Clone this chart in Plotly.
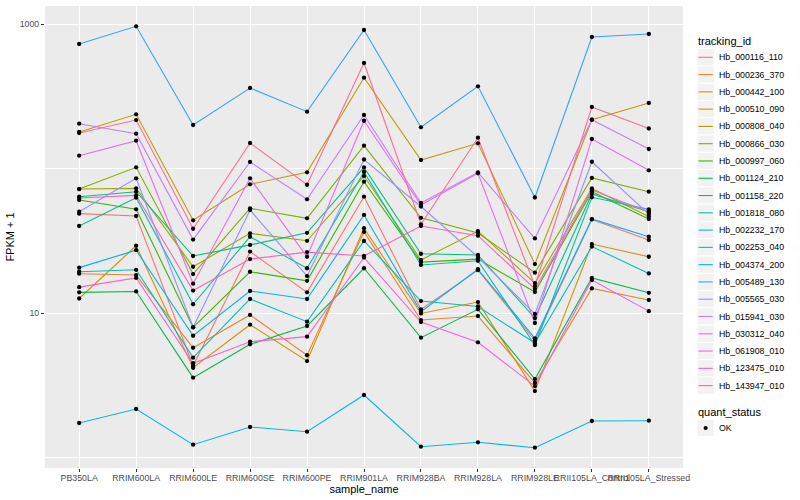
import plotly.graph_objects as go

# ---------------- data ----------------
samples = ["PB350LA", "RRIM600LA", "RRIM600LE", "RRIM600SE", "RRIM600PE", "RRIM901LA",
           "RRIM928BA", "RRIM928LA", "RRIM928LE", "RRII105LA_Control", "RRII105LA_Stressed"]

tracking_ids = ["Hb_000116_110", "Hb_000236_370", "Hb_000442_100", "Hb_000510_090",
                "Hb_000808_040", "Hb_000866_030", "Hb_000997_060", "Hb_001124_210",
                "Hb_001158_220", "Hb_001818_080", "Hb_002232_170", "Hb_002253_040",
                "Hb_004374_200", "Hb_005489_130", "Hb_005565_030", "Hb_015941_030",
                "Hb_030312_040", "Hb_061908_010", "Hb_123475_010", "Hb_143947_010"]

# FPKM + 1 per sample
Hb_000116_110 = [48.7, 46.9, 4.32, 26.6, 13.9, 63.8, 10.6, 19.8, 6.45, 44.4, 32.0]
Hb_000236_370 = [18.7, 18.3, 5.75, 9.69, 5.10, 36.4, 8.94, 9.53, 3.28, 14.8, 12.3]
Hb_000442_100 = [12.6, 29.2, 4.18, 8.30, 4.65, 38.6, 9.92, 11.9, 2.88, 30.0, 24.5]
Hb_000510_090 = [178.9, 237.2, 43.8, 77.7, 94.1, 425.0, 114.5, 149.4, 21.8, 217.6, 284.0]
Hb_000808_040 = [72.1, 72.9, 20.9, 35.6, 31.6, 88.7, 23.3, 36.9, 16.1, 72.7, 46.5]
Hb_000866_030 = [72.1, 101.9, 18.6, 53.0, 45.2, 143.8, 45.6, 35.8, 19.0, 86.0, 69.1]
Hb_000997_060 = [60.5, 52.2, 7.96, 19.3, 16.7, 81.0, 22.5, 23.6, 14.0, 69.1, 44.7]
Hb_001124_210 = [13.9, 14.1, 3.57, 6.07, 8.13, 20.4, 6.75, 10.6, 3.49, 17.5, 13.8]
Hb_001158_220 = [63.8, 69.1, 24.8, 29.6, 35.9, 101.6, 25.7, 25.2, 9.23, 66.6, 50.2]
Hb_001818_080 = [40.0, 62.8, 11.5, 33.7, 20.4, 94.6, 21.5, 23.0, 6.00, 63.2, 52.2]
Hb_002232_170 = [19.3, 19.9, 4.91, 12.5, 8.71, 31.5, 12.1, 11.1, 6.20, 28.8, 18.8]
Hb_002253_040 = [1.733, 2.166, 1.226, 1.626, 1.508, 2.707, 1.188, 1.274, 1.169, 1.789, 1.797]
Hb_004374_200 = [20.6, 27.2, 6.96, 14.2, 12.5, 47.7, 10.2, 20.1, 6.68, 44.7, 33.7]
Hb_005489_130 = [727.0, 964.0, 200.0, 360.7, 247.3, 908.8, 192.8, 370.6, 63.0, 812.8, 852.6]
Hb_005565_030 = [50.2, 85.5, 7.96, 51.6, 18.0, 115.4, 54.6, 24.4, 9.84, 111.4, 48.4]
Hb_015941_030 = [204.2, 174.1, 32.2, 110.9, 61.2, 234.5, 57.7, 94.1, 32.8, 217.6, 136.4]
Hb_030312_040 = [122.6, 155.7, 15.95, 85.5, 24.5, 214.1, 55.9, 92.6, 8.53, 160.0, 97.2]
Hb_061908_010 = [15.1, 17.5, 4.49, 6.33, 6.86, 24.2, 8.66, 6.27, 3.12, 16.9, 10.3]
Hb_123475_010 = [62.5, 65.2, 14.3, 23.6, 26.4, 24.8, 40.0, 34.3, 14.7, 71.0, 50.0]
Hb_143947_010 = [176.1, 216.5, 38.3, 150.1, 77.2, 537.2, 41.1, 163.4, 15.4, 266.4, 189.1]

series_values = [Hb_000116_110, Hb_000236_370, Hb_000442_100, Hb_000510_090, Hb_000808_040,
                 Hb_000866_030, Hb_000997_060, Hb_001124_210, Hb_001158_220, Hb_001818_080,
                 Hb_002232_170, Hb_002253_040, Hb_004374_200, Hb_005489_130, Hb_005565_030,
                 Hb_015941_030, Hb_030312_040, Hb_061908_010, Hb_123475_010, Hb_143947_010]

quant_status = ["OK"]

y_tick_vals = [10, 1000]
y_tick_text = ["10", "1000"]
y_minor_vals = [1, 100]

# ggplot2 default hue palette for 20 levels
colors = ["#F8766D", "#EA8331", "#D89000", "#C09B00", "#A3A500", "#7CAE00", "#39B600",
          "#00BB4E", "#00BF7D", "#00C1A3", "#00BFC4", "#00BAE0", "#00B0F6", "#35A2FF",
          "#9590FF", "#C77CFF", "#E76BF3", "#FA62DB", "#FF62BC", "#FF6C91"]

# ---------------- figure ----------------
FONT = "Liberation Sans, Arial, Helvetica, sans-serif"
fig = go.Figure()

for name, vals, col in zip(tracking_ids, series_values, colors):
    fig.add_trace(go.Scatter(x=samples, y=vals, mode="lines", name=name,
                             line=dict(color=col, width=1.1), showlegend=False,
                             hoverinfo="skip"))

pts_x, pts_y = [], []
for vals in series_values:
    pts_x.extend(samples)
    pts_y.extend(vals)
fig.add_trace(go.Scatter(x=pts_x, y=pts_y, mode="markers", name=quant_status[0],
                         marker=dict(color="black", size=4.3, line=dict(width=0)),
                         showlegend=False))

# panel geometry in pixels (for the hand-drawn ggplot-style legend)
W, H = 800, 500
PL, PR, PT, PB = 45, 683, 6, 468


def px(xp):
    return (xp - PL) / (PR - PL)


def py(yp):
    return (PB - yp) / (PB - PT)


shapes, annots = [], []
annots.append(dict(x=px(696), y=py(40.5), xref="paper", yref="paper", text="tracking_id",
                   showarrow=False, xanchor="left", yanchor="middle",
                   font=dict(family=FONT, size=11, color="black")))
key_h = 17.28
first_c = 57.3
for i, (name, col) in enumerate(zip(tracking_ids, colors)):
    c = first_c + i * key_h
    shapes.append(dict(type="rect", xref="paper", yref="paper",
                       x0=px(697), x1=px(697 + key_h), y0=py(c + key_h / 2), y1=py(c - key_h / 2),
                       fillcolor="#F2F2F2", line=dict(color="white", width=1), layer="above"))
    shapes.append(dict(type="line", xref="paper", yref="paper",
                       x0=px(698.5), x1=px(697 + key_h - 1.5), y0=py(c), y1=py(c),
                       line=dict(color=col, width=1.1), layer="above"))
    annots.append(dict(x=px(716.5), y=py(c), xref="paper", yref="paper", text=name,
                       showarrow=False, xanchor="left", yanchor="middle",
                       font=dict(family=FONT, size=8.8, color="black")))

annots.append(dict(x=px(696), y=py(411.5), xref="paper", yref="paper", text="quant_status",
                   showarrow=False, xanchor="left", yanchor="middle",
                   font=dict(family=FONT, size=11, color="black")))
ok_c = 428.0
shapes.append(dict(type="rect", xref="paper", yref="paper",
                   x0=px(697), x1=px(697 + key_h), y0=py(ok_c + key_h / 2), y1=py(ok_c - key_h / 2),
                   fillcolor="#F2F2F2", line=dict(color="white", width=1), layer="above"))
shapes.append(dict(type="circle", xref="paper", yref="paper",
                   x0=px(697 + key_h / 2 - 2.1), x1=px(697 + key_h / 2 + 2.1),
                   y0=py(ok_c + 2.1), y1=py(ok_c - 2.1),
                   fillcolor="black", line=dict(width=0), layer="above"))
annots.append(dict(x=px(716.5), y=py(ok_c), xref="paper", yref="paper", text=quant_status[0],
                   showarrow=False, xanchor="left", yanchor="middle",
                   font=dict(family=FONT, size=8.8, color="black")))

fig.update_layout(
    width=W, height=H,
    margin=dict(l=PL, r=W - PR, t=PT, b=H - PB, pad=0, autoexpand=False),
    paper_bgcolor="white", plot_bgcolor="#EBEBEB",
    showlegend=False,
    font=dict(family=FONT, size=11, color="black"),
    shapes=shapes, annotations=annots,
    xaxis=dict(type="category", categoryorder="array", categoryarray=samples,
               range=[-0.6, 10.6], showgrid=True, gridcolor="white", gridwidth=1.1,
               zeroline=False, showline=False, ticks="outside", ticklen=3,
               tickcolor="#333333", tickwidth=1.1, tickangle=0, automargin=False,
               ticklabelstandoff=-2,
               tickfont=dict(family=FONT, size=8.8, color="#4D4D4D"),
               title=dict(text="sample_name", font=dict(family=FONT, size=11, color="black"),
                          standoff=0)),
    yaxis=dict(type="log", range=[-0.0727, 3.1246], tickmode="array",
               tickvals=y_tick_vals, ticktext=y_tick_text,
               showgrid=True, gridcolor="white", gridwidth=1.1, zeroline=False,
               showline=False, ticks="outside", ticklen=3, tickcolor="#333333",
               tickwidth=1.1, automargin=False,
               tickfont=dict(family=FONT, size=8.8, color="#4D4D4D"),
               minor=dict(tickmode="array", tickvals=y_minor_vals, showgrid=True,
                          gridcolor="white", gridwidth=0.55, ticks=""),
               title=dict(text="FPKM + 1", font=dict(family=FONT, size=11, color="black"),
                          standoff=2)),
)

fig.write_html("out.html", config={"displayModeBar": False},
               post_script="document.body.style.margin='0px';document.body.style.padding='0px';")
